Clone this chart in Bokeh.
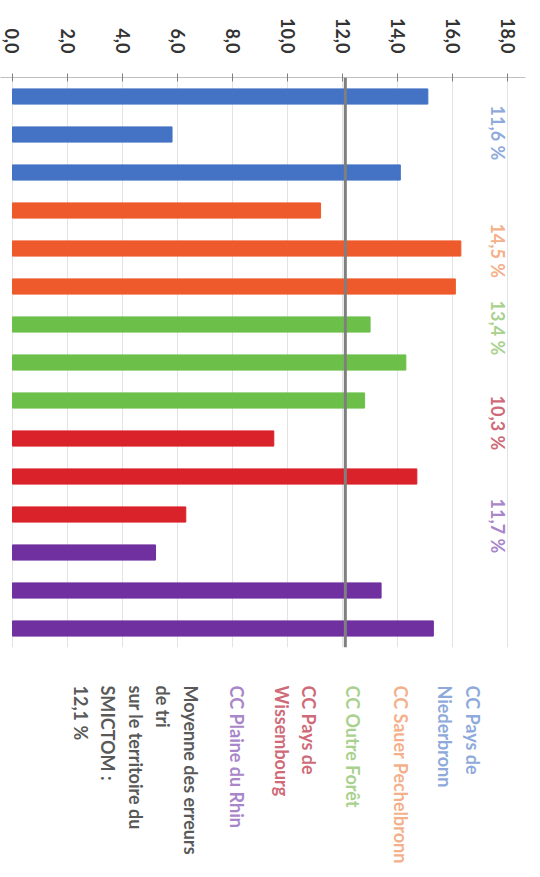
import math
from bokeh.plotting import figure
from bokeh.layouts import column
from bokeh.models import Range1d, Label, Span, FixedTicker, CustomJSTickFormatter
from bokeh.embed import file_html
from bokeh.resources import INLINE

# ---- data ----
values = [15.1, 5.8, 14.1,      # CC Pays de Niederbronn
          11.2, 16.3, 16.1,     # CC Sauer Pechelbronn
          13.0, 14.3, 12.8,     # CC Outre Forêt
          9.5, 14.7, 6.3,       # CC Pays de Wissembourg
          5.2, 13.4, 15.3]      # CC Plaine du Rhin
groups = ["CC Pays de\nNiederbronn", "CC Sauer Pechelbronn", "CC Outre Forêt",
          "CC Pays de\nWissembourg", "CC Plaine du Rhin"]
group_means = ["11,6 %", "14,5 %", "13,4 %", "10,3 %", "11,7 %"]
overall_mean = 12.1
overall_text = "Moyenne des erreurs\nde tri\nsur le territoire du\nSMICTOM :\n12,1 %"
ticks = [0, 2, 4, 6, 8, 10, 12, 14, 16, 18]

# ---- styles ----
bar_colors = ["#4472C4", "#EE5A2B", "#6CC04A", "#D9222A", "#7030A0"]
pale_colors = ["#8EAADB", "#F4B08A", "#A9D18E", "#CF6B78", "#A985C9"]
FONT = "Lato"

idx = list(range(len(values)))
colors = [bar_colors[i // 3] for i in idx]

p = figure(width=540, height=655, output_backend="svg", toolbar_location=None,
           x_range=Range1d(-0.436, 18.65), y_range=Range1d(14.5, -0.5),
           x_axis_location="above", y_axis_location=None,
           min_border_left=0, min_border_right=15, min_border_top=77,
           min_border_bottom=8)
p.outline_line_color = None
p.background_fill_color = "white"

p.hbar(y=idx, left=0, right=values, height=0.4, color=colors)

p.add_layout(Span(location=overall_mean, dimension="height",
                  line_color="#7F7F7F", line_width=3))

ax = p.xaxis[0]
ax.ticker = FixedTicker(ticks=ticks)
ax.formatter = CustomJSTickFormatter(code="return tick.toFixed(1).replace('.', ',');")
ax.major_label_orientation = -math.pi / 2
ax.major_label_text_font = FONT
ax.major_label_text_font_style = "bold"
ax.major_label_text_font_size = "18px"
ax.major_label_text_color = "#333333"
ax.major_label_standoff = 20
ax.axis_line_color = "#BFBFBF"
ax.major_tick_line_color = "#808080"
ax.major_tick_in = 4
ax.major_tick_out = 4
ax.minor_tick_line_color = None

p.xgrid.ticker = FixedTicker(ticks=ticks)
p.xgrid.grid_line_color = "#E3E3E3"
p.ygrid.visible = False

# group mean labels (manual positions as in the original)
mean_label_y = [0.24, 3.34, 5.37, 7.87, 10.58]
for txt, col, yy in zip(group_means, pale_colors, mean_label_y):
    p.add_layout(Label(x=17.66, y=yy, text=txt, angle=-math.pi / 2,
                       text_align="left", text_baseline="middle",
                       text_color=col, text_font=FONT, text_font_style="bold",
                       text_font_size="18px"))

# legend block below the plot (separate panel, pixel coordinates)
leg = figure(width=540, height=222, output_backend="svg", toolbar_location=None,
             x_range=Range1d(0, 540), y_range=Range1d(222, 0),
             x_axis_location=None, y_axis_location=None,
             min_border_left=0, min_border_right=0, min_border_top=0,
             min_border_bottom=0)
leg.outline_line_color = None
leg.grid.visible = False

legend_x = [497, 423, 374, 329, 255, 207]
legend_texts = groups + [overall_text]
legend_cols = pale_colors + ["#595959"]
for txt, col, xx in zip(legend_texts, legend_cols, legend_x):
    leg.add_layout(Label(x=xx, y=30, text=txt, angle=-math.pi / 2,
                         text_align="left", text_baseline="top",
                         text_color=col, text_font=FONT, text_font_style="bold",
                         text_font_size="18px", text_line_height=1.25))

layout = column(p, leg, spacing=0)
open("out.html", "w").write(file_html(layout, INLINE))
